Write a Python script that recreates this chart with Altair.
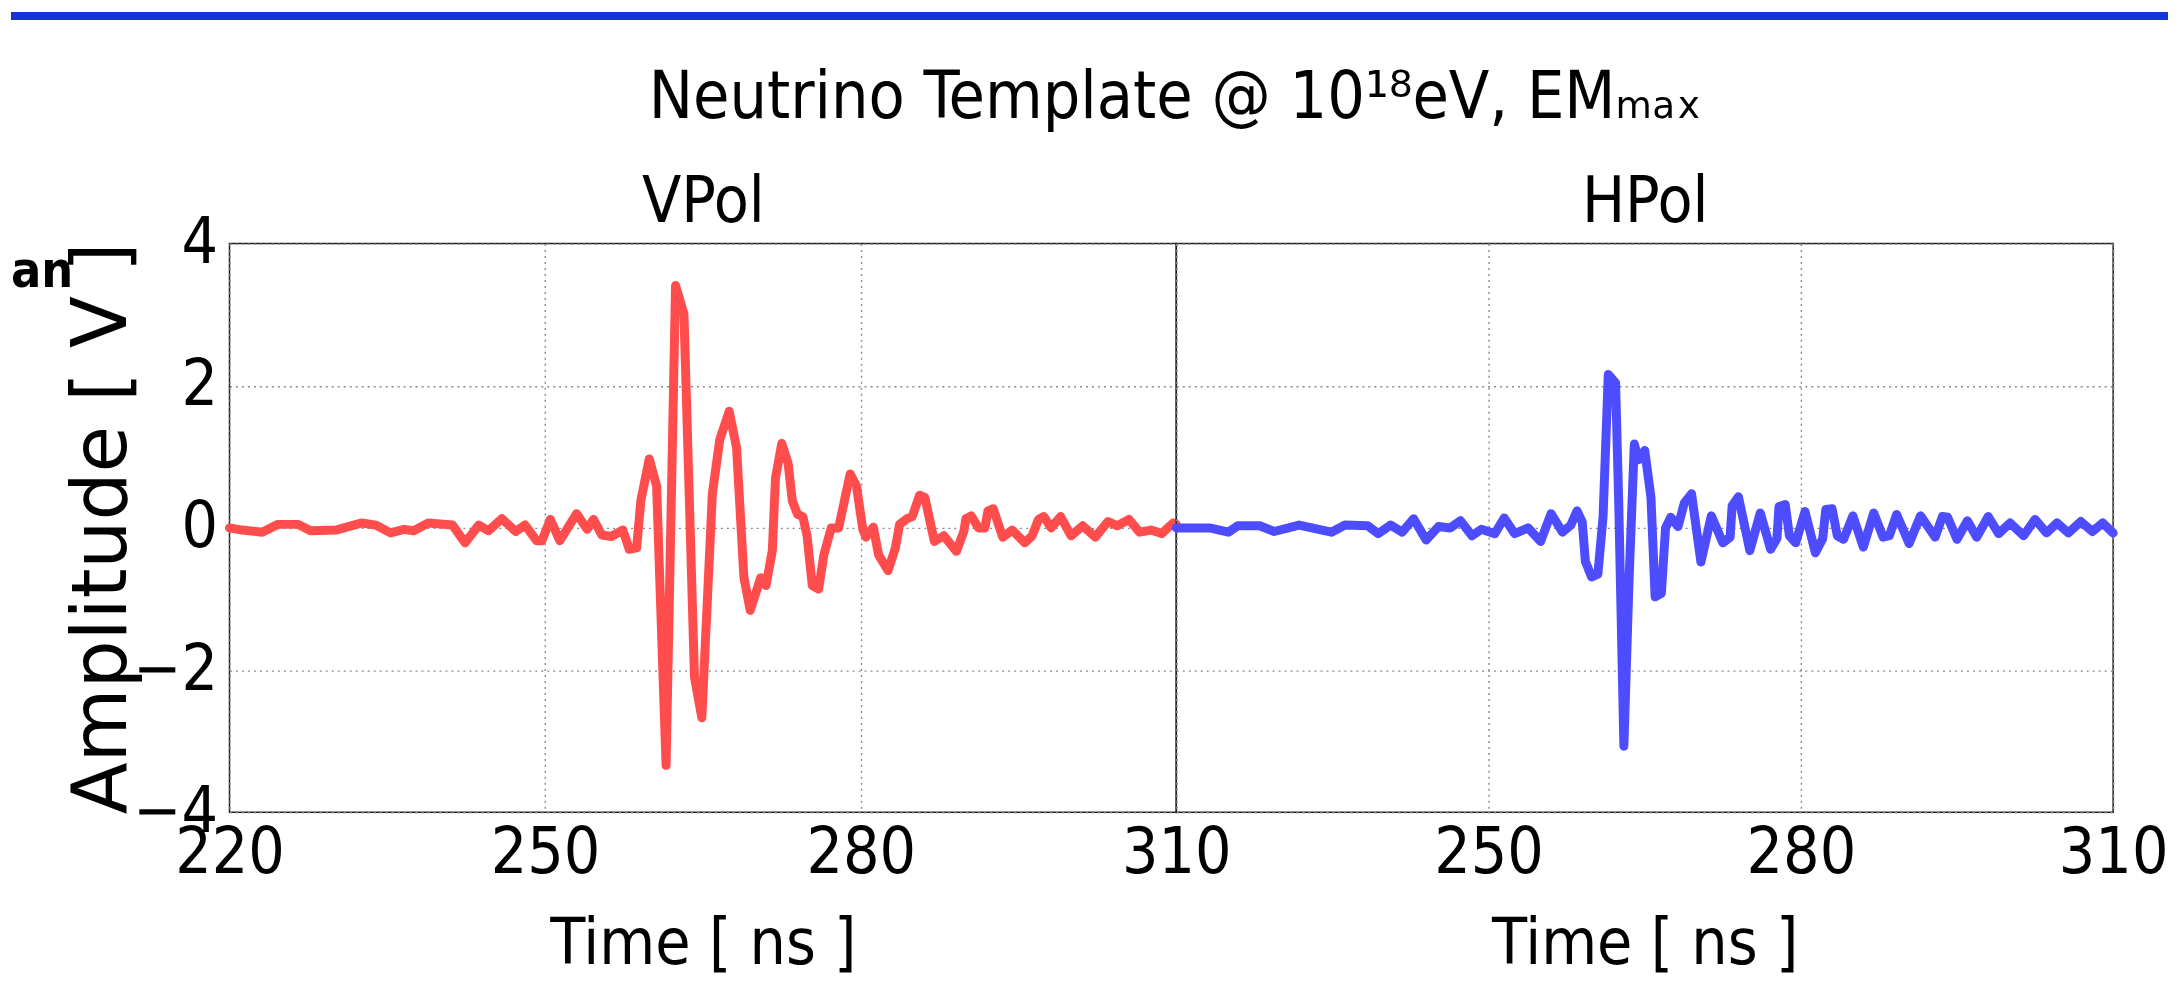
import altair as alt
import pandas as pd

# ---- data ----
VPOL_T = [220.0, 221.2, 223.1, 224.6, 226.5, 227.7, 230.1, 232.6, 233.9, 235.3,
          236.6, 237.5, 238.9, 241.2, 242.4, 243.7, 244.6, 245.9, 247.2, 248.1,
          249.2, 249.7, 250.5, 251.4, 253.0, 254.0, 254.6, 255.4, 256.3, 257.4,
          258.0, 258.7, 259.1, 259.9, 260.6, 261.5, 262.4, 263.2, 264.2, 264.9,
          265.9, 266.6, 267.5, 268.2, 268.9, 269.5, 270.5, 271.0, 271.6, 271.9,
          272.5, 273.1, 273.5, 274.0, 274.5, 274.9, 275.4, 276.0, 276.5, 277.2,
          277.9, 279.0, 279.6, 280.2, 280.5, 281.2, 281.7, 282.6, 283.3, 283.7,
          284.4, 284.9, 285.6, 286.1, 287.0, 287.9, 289.1, 289.8, 290.0, 290.5,
          291.2, 291.8, 292.1, 292.6, 293.5, 294.4, 295.6, 296.3, 296.9, 297.4,
          298.1, 299.0, 300.0, 301.1, 302.3, 303.5, 304.4, 305.5, 306.5, 307.6,
          308.6, 309.7, 310.0]
VPOL_V = [0.0, -0.03, -0.06, 0.05, 0.05, -0.04, -0.03, 0.07, 0.04, -0.07,
          -0.02, -0.04, 0.07, 0.04, -0.21, 0.04, -0.04, 0.13, -0.05, 0.04,
          -0.18, -0.18, 0.12, -0.18, 0.2, -0.02, 0.12, -0.1, -0.12, -0.03,
          -0.3, -0.28, 0.38, 0.97, 0.59, -3.34, 3.41, 3.01, -2.1, -2.67,
          0.48, 1.24, 1.64, 1.13, -0.7, -1.16, -0.7, -0.81, -0.32, 0.7,
          1.19, 0.91, 0.38, 0.19, 0.16, -0.11, -0.81, -0.86, -0.38, 0.0,
          0.0, 0.76, 0.59, -0.02, -0.13, 0.01, -0.38, -0.6, -0.28, 0.05,
          0.13, 0.16, 0.46, 0.43, -0.19, -0.11, -0.33, -0.05, 0.13, 0.17,
          0.0, 0.0, 0.24, 0.27, -0.13, -0.03, -0.21, -0.11, 0.12, 0.16,
          0.0, 0.16, -0.11, 0.03, -0.13, 0.09, 0.03, 0.12, -0.06, -0.03,
          -0.08, 0.07, 0.05]

HPOL_T = [220.0, 221.3, 223.2, 225.0, 225.9, 228.0, 229.4, 231.8, 234.9, 236.2,
          238.4, 239.4, 240.6, 241.7, 242.8, 244.0, 245.2, 246.3, 247.3, 248.4,
          249.3, 250.6, 251.5, 252.5, 253.8, 255.0, 256.0, 257.1, 257.9, 258.5,
          259.0, 259.3, 259.9, 260.5, 261.0, 261.5, 262.2, 262.5, 263.0, 263.5,
          264.0, 264.4, 265.0, 265.6, 266.0, 266.6, 267.0, 267.5, 268.2, 268.8,
          269.5, 270.4, 271.4, 272.5, 273.2, 273.4, 274.0, 275.1, 276.1, 277.1,
          277.7, 277.9, 278.5, 278.9, 279.5, 280.4, 281.4, 282.1, 282.4, 283.0,
          283.5, 284.1, 285.0, 286.0, 287.0, 287.9, 288.5, 289.2, 290.4, 291.5,
          292.9, 293.6, 294.1, 295.0, 296.0, 296.9, 298.0, 299.0, 300.1, 301.4,
          302.5, 303.6, 304.6, 305.7, 306.9, 308.0, 309.0, 310.0]
HPOL_V = [0.0, 0.0, 0.0, -0.06, 0.03, 0.03, -0.05, 0.04, -0.06, 0.04,
          0.03, -0.08, 0.04, -0.06, 0.13, -0.17, 0.02, 0.0, 0.1, -0.11,
          -0.02, -0.08, 0.14, -0.08, 0.0, -0.19, 0.2, -0.06, 0.04, 0.24,
          0.08, -0.47, -0.69, -0.65, 0.16, 2.16, 2.04, 0.38, -3.07, -0.71,
          1.18, 0.96, 1.09, 0.43, -0.97, -0.92, 0.0, 0.15, 0.02, 0.35,
          0.48, -0.48, 0.17, -0.21, -0.13, 0.31, 0.44, -0.32, 0.21, -0.3,
          -0.15, 0.3, 0.33, -0.11, -0.21, 0.23, -0.35, -0.15, 0.26, 0.27,
          -0.11, -0.16, 0.17, -0.27, 0.21, -0.13, -0.11, 0.19, -0.22, 0.17,
          -0.13, 0.16, 0.15, -0.16, 0.1, -0.13, 0.16, -0.08, 0.07, -0.11,
          0.12, -0.07, 0.07, -0.07, 0.09, -0.05, 0.07, -0.07]

X_TICKS = [220, 250, 280, 310]
Y_TICKS = [-4, -2, 0, 2, 4]
MAIN_TITLE = "Neutrino Template @ 10¹⁸eV, EMₘₐₓ"
PANEL_TITLES = ["VPol", "HPol"]
X_TITLE = "Time [ ns ]"
Y_TITLE = "Amplitude [ V ]"
SIDE_TEXT = ["an"]

NARROW = "DejaVu Sans Condensed"
WIDE = "DejaVu Sans"
RED = "#FF4D4D"
BLUE = "#4D4DFF"
BAR_BLUE = "#1535D8"
W_LEFT, W_RIGHT, H = 949, 939, 570

x_scale = alt.Scale(domain=[220, 310], nice=False, zero=False)
y_scale = alt.Scale(domain=[-4, 4], nice=False, zero=False)

grid_style = dict(grid=True, gridColor="#8a8a8a", gridDash=[2, 4], gridWidth=1.4,
                  ticks=False, domain=False)


def x_axis(hide_first):
    kw = dict(values=X_TICKS, title=X_TITLE, labelFont=NARROW, labelFontSize=64,
              labelColor="black", labelPadding=9, labelFlush=False, labelOverlap=False,
              titleFont=NARROW, titleFontSize=64, titleColor="black",
              titleFontWeight="normal", titlePadding=28, **grid_style)
    if hide_first:
        kw["labelExpr"] = "datum.value == 220 ? '' : datum.label"
    return alt.Axis(**kw)


def top_axis(title):
    return alt.Axis(orient="top", title=title, labels=False, ticks=False, domain=False,
                    grid=False, titleFont=NARROW, titleFontSize=64, titleColor="black",
                    titleFontWeight="normal", titlePadding=22, titleBaseline="alphabetic")


def y_axis(show):
    if show:
        return alt.Axis(values=Y_TICKS, title=Y_TITLE, labelFont=NARROW, labelFontSize=64,
                        labelColor="black", labelPadding=12, labelFlush=False,
                        labelOverlap=False, titleFont=WIDE, titleFontSize=76,
                        titleColor="black", titleFontWeight="normal",
                        titleBaseline="alphabetic", titleX=-104, **grid_style)
    return alt.Axis(values=Y_TICKS, labels=False, title=None, **grid_style)


def panel(t, v, color, title, first, width):
    df = pd.DataFrame({"t": t, "v": v})
    y_enc = alt.Y("v:Q", scale=y_scale, axis=y_axis(first))
    line = alt.Chart(df).mark_line(color=color, strokeWidth=9, strokeJoin="round",
                                   strokeCap="round").encode(
        x=alt.X("t:Q", scale=x_scale, axis=x_axis(not first)),
        y=y_enc,
        order="t:Q",
    )
    header = alt.Chart(df).mark_line(opacity=0).encode(
        x=alt.X("t:Q", scale=x_scale, axis=top_axis(title)),
        y=y_enc,
    )
    layers = [line, header]
    if first:
        side = alt.Chart(pd.DataFrame({"s": SIDE_TEXT})).mark_text(
            align="left", baseline="alphabetic", font=NARROW, fontSize=50,
            fontWeight="bold", color="black").encode(
            text="s:N", x=alt.value(-219), y=alt.value(44))
        band = alt.Chart(pd.DataFrame({"s": [0]})).mark_rule(
            color=BAR_BLUE, strokeWidth=8, strokeCap="square").encode(
            x=alt.value(-215), x2=alt.value(1939), y=alt.value(-228))
        layers += [side, band]
    return alt.layer(*layers).resolve_axis(x="independent").properties(
        width=width, height=H)


left = panel(VPOL_T, VPOL_V, RED, PANEL_TITLES[0], True, W_LEFT)
right = panel(HPOL_T, HPOL_V, BLUE, PANEL_TITLES[1], False, W_RIGHT)

chart = alt.hconcat(
    left, right, spacing=0, bounds="flush",
    title=alt.TitleParams(text=MAIN_TITLE, font=NARROW, fontSize=66,
                          fontWeight="normal", color="black", anchor="middle",
                          offset=-175, dx=86, baseline="alphabetic"),
).properties(padding=0, background="white").configure_view(
    stroke="#222222", strokeWidth=1.5)

chart.save("out.html", embed_options={"renderer": "svg", "actions": False})
